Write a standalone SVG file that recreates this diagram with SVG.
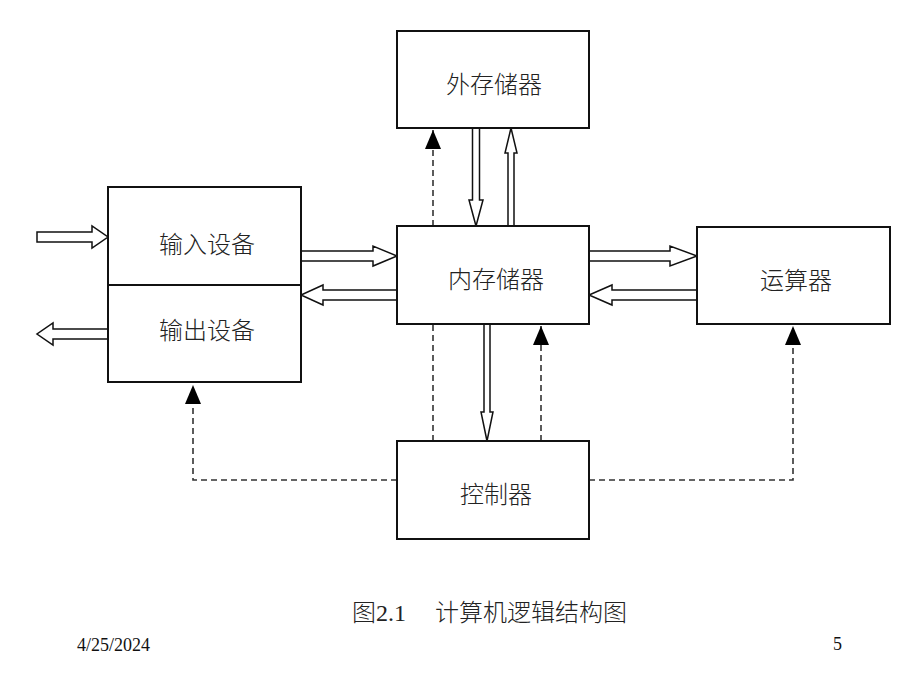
<svg xmlns="http://www.w3.org/2000/svg" width="920" height="690" viewBox="0 0 920 690">
  <style>
    .box { fill: #fff; stroke: #111; stroke-width: 2; }
    .lbl { font-family: "Noto Sans CJK SC", sans-serif; font-size: 24px; font-weight: 300; fill: #222; text-anchor: middle; dominant-baseline: central; }
    .hollow { fill: #fff; stroke: #111; stroke-width: 1.5; stroke-linejoin: miter; }
    .dash { fill: none; stroke: #333; stroke-width: 1.6; stroke-dasharray: 6 4; }
    .cap { font-family: "Liberation Serif", "Noto Sans CJK SC", serif; font-size: 24px; font-weight: 300; fill: #222; }
    .foot { font-family: "Liberation Serif", serif; font-size: 18px; fill: #111; }
  </style>
  <defs>
    <marker id="tri" markerUnits="userSpaceOnUse" markerWidth="19" markerHeight="16" refX="19" refY="8" orient="auto">
      <path d="M0,0 L19,8 L0,16 z" fill="#000"/>
    </marker>
  </defs>
  <rect width="920" height="690" fill="#fff"/>

  <g id="connectors">
    <path class="dash" d="M433,226 V130" marker-end="url(#tri)"/>
    <path class="dash" d="M433,441 V324"/>
    <path class="dash" d="M541,441 V326" marker-end="url(#tri)"/>
    <path class="dash" d="M397,480 H193 V385" marker-end="url(#tri)"/>
    <path class="dash" d="M589,480 H793 V326" marker-end="url(#tri)"/>
    <polygon class="hollow" points="37,232 92,232 92,226 108,237 92,248 92,242 37,242"/>
    <polygon class="hollow" points="108,329 53,329 53,323 37,334 53,345 53,339 108,339"/>
    <polygon class="hollow" points="301,251 373,251 373,246 397,256 373,266 373,261 301,261"/>
    <polygon class="hollow" points="397,290 323,290 323,285 301,295 323,305 323,300 397,300"/>
    <polygon class="hollow" points="589,251 670,251 670,246 697,256 670,266 670,261 589,261"/>
    <polygon class="hollow" points="697,290 612,290 612,285 589,295 612,305 612,300 697,300"/>
    <polygon class="hollow" points="472.5,128 479.5,128 479.5,200 483,200 476,226 469,200 472.5,200"/>
    <polygon class="hollow" points="508,226 508,153 505,153 511,128 517,153 514,153 514,226"/>
    <polygon class="hollow" points="484,324 490,324 490,412 493,412 487,441 481,412 484,412"/>
  </g>

  <g id="io">
    <rect class="box" x="108" y="187" width="193" height="195"/>
    <line x1="108" y1="285" x2="301" y2="285" stroke="#111" stroke-width="2"/>
    <text class="lbl" x="207" y="242">输入设备</text>
    <text class="lbl" x="207" y="328">输出设备</text>
  </g>
  <g id="external-storage">
    <rect class="box" x="397" y="31" width="192" height="97"/>
    <text class="lbl" x="494" y="82">外存储器</text>
  </g>
  <g id="memory">
    <rect class="box" x="397" y="226" width="192" height="98"/>
    <text class="lbl" x="496" y="277">内存储器</text>
  </g>
  <g id="alu">
    <rect class="box" x="697" y="227" width="193" height="97"/>
    <text class="lbl" x="796" y="278">运算器</text>
  </g>
  <g id="controller">
    <rect class="box" x="397" y="441" width="192" height="98"/>
    <text class="lbl" x="496" y="492">控制器</text>
  </g>

  <g id="caption">
    <text class="cap" x="352" y="621">图2.1</text>
    <text class="cap" x="435" y="621">计算机逻辑结构图</text>
  </g>
  <g id="footer">
    <text class="foot" x="77" y="651">4/25/2024</text>
    <text class="foot" x="833" y="650">5</text>
  </g>
</svg>
